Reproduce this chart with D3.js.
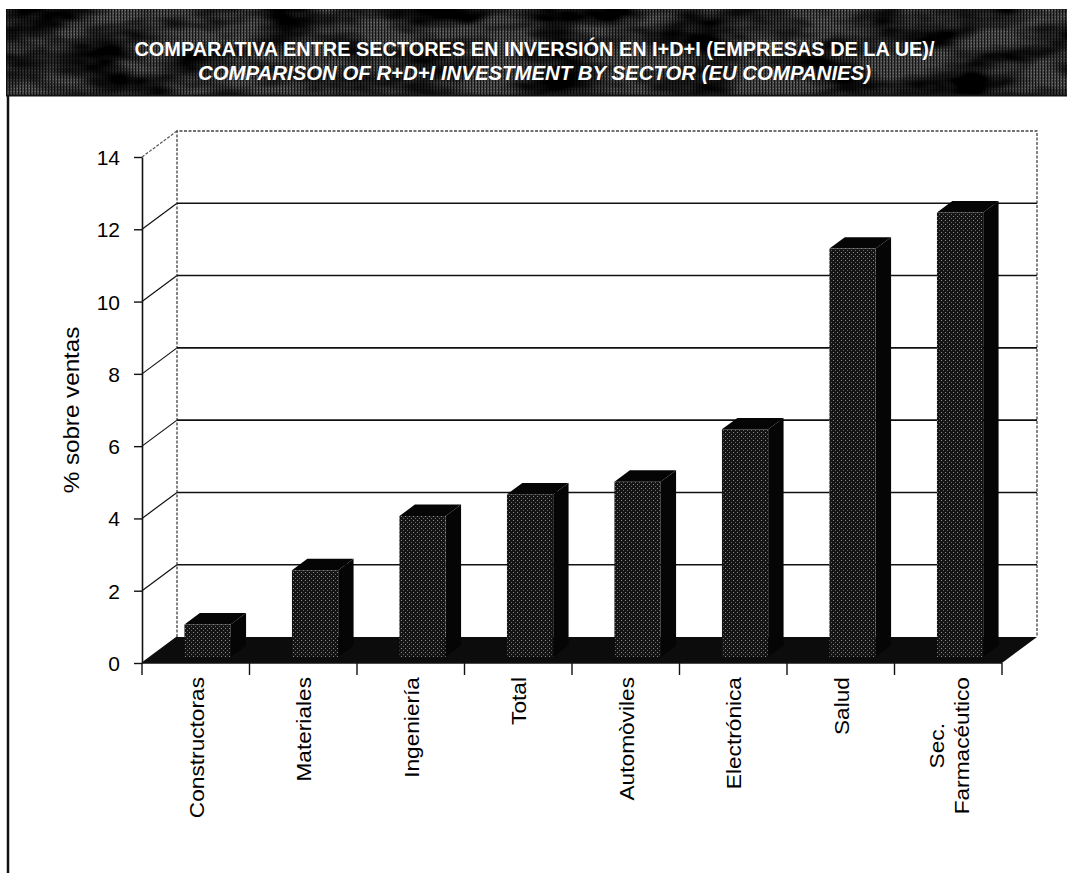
<!DOCTYPE html>
<html>
<head>
<meta charset="utf-8">
<script src="https://cdn.jsdelivr.net/npm/d3@7"></script>
<style>
  body { margin: 0; background: #fff; }
  svg { display: block; font-family: 'Liberation Sans', Arial, Helvetica, sans-serif; }
</style>
</head>
<body>
<svg id="chart"></svg>
<script>
// data
var sectors = ['Constructoras', 'Materiales', 'Ingeniería', 'Total', 'Automòviles', 'Electrónica', 'Salud', 'Sec.\nFarmacéutico'];
var values = [0.9, 2.4, 3.9, 4.5, 4.85, 6.3, 11.3, 12.3];
var yTicks = [0, 2, 4, 6, 8, 10, 12, 14];
var titleLines = [
  'COMPARATIVA ENTRE SECTORES EN INVERSIÓN EN I+D+I (EMPRESAS DE LA UE)/',
  'COMPARISON OF R+D+I INVESTMENT BY SECTOR (EU COMPANIES)'
];
var yLabel = '% sobre ventas';

var W = 1067, H = 873;
var svg = d3.select('#chart').attr('width', W).attr('height', H);
var defs = svg.append('defs');

// textures: dotted front faces, hatched banner
var stip = defs.append('pattern').attr('id', 'stip')
  .attr('width', 4).attr('height', 4).attr('patternUnits', 'userSpaceOnUse');
stip.append('rect').attr('width', 4).attr('height', 4).attr('fill', '#141414');
stip.append('rect').attr('x', 1).attr('y', 0).attr('width', 1).attr('height', 1).attr('fill', '#8c8c8c');
stip.append('rect').attr('x', 3).attr('y', 2).attr('width', 1).attr('height', 1).attr('fill', '#6a6a6a');

var hatch = defs.append('pattern').attr('id', 'hatch')
  .attr('width', 3).attr('height', 3).attr('patternUnits', 'userSpaceOnUse');
hatch.append('rect').attr('width', 3).attr('height', 3).attr('fill', '#444');
hatch.append('rect').attr('width', 1).attr('height', 3).attr('fill', '#151515');
hatch.append('rect').attr('x', 2).attr('y', 1).attr('width', 1).attr('height', 1).attr('fill', '#707070');

var mottle = defs.append('filter').attr('id', 'mottle').attr('x', 0).attr('y', 0).attr('width', 1).attr('height', 1);
mottle.append('feTurbulence').attr('type', 'fractalNoise').attr('baseFrequency', '0.015 0.04').attr('numOctaves', 3).attr('seed', 4);
mottle.append('feColorMatrix').attr('values', '0 0 0 0 0  0 0 0 0 0  0 0 0 0 0  0 0 0 -2.4 1.6');
mottle.append('feComposite').attr('in2', 'SourceGraphic').attr('operator', 'in');

// banner
var banner = svg.append('g');
banner.append('rect').attr('x', 6).attr('y', 9).attr('width', W - 6).attr('height', 87).attr('fill', 'url(#hatch)');
banner.append('rect').attr('x', 6).attr('y', 9).attr('width', W - 6).attr('height', 87).attr('fill', '#000').attr('filter', 'url(#mottle)');
banner.append('line').attr('x1', 6).attr('x2', W).attr('y1', 95.5).attr('y2', 95.5).attr('stroke', '#111').attr('stroke-width', 2);

var titleW = [800, 673];
banner.selectAll('text.title').data(titleLines).enter().append('text')
  .attr('class', 'title')
  .attr('x', 534.5)
  .attr('y', (d, i) => 56 + i * 24)
  .attr('text-anchor', 'middle')
  .attr('fill', '#fff')
  .attr('font-weight', 'bold')
  .attr('font-style', (d, i) => i ? 'italic' : 'normal')
  .attr('font-size', 21)
  .attr('textLength', (d, i) => titleW[i])
  .attr('lengthAdjust', 'spacingAndGlyphs')
  .text(d => d);

// left panel border
svg.append('line').attr('x1', 8).attr('x2', 8).attr('y1', 95).attr('y2', H)
  .attr('stroke', '#111').attr('stroke-width', 2.5);

// 3D frame
var left = 142, right = 1002;
var depth = { dx: 35, dy: -26 };

var x = d3.scaleBand().domain(sectors).range([left, right]).padding(0);
var y = d3.scaleLinear().domain([0, 14]).range([663, 157]);

var chart = svg.append('g');

// left wall diagonals
chart.selectAll('line.diag').data(yTicks).enter().append('line')
  .attr('x1', left).attr('y1', d => y(d))
  .attr('x2', left + depth.dx).attr('y2', d => y(d) + depth.dy)
  .attr('stroke', d => d === 14 ? '#555' : '#111')
  .attr('stroke-width', 1.2)
  .attr('stroke-dasharray', d => d === 14 ? '3,1.5' : null);

// back wall edges (dotted)
var bx0 = left + depth.dx, bx1 = right + depth.dx;
chart.append('path')
  .attr('d', `M${bx0},${y(0) + depth.dy}V${y(14) + depth.dy}H${bx1}V${y(0) + depth.dy}`)
  .attr('fill', 'none').attr('stroke', '#444').attr('stroke-width', 1.3)
  .attr('stroke-dasharray', '3,1.5');

// back gridlines
chart.selectAll('line.grid').data(yTicks.filter(d => d > 0 && d < 14)).enter().append('line')
  .attr('x1', bx0).attr('x2', bx1)
  .attr('y1', d => y(d) + depth.dy).attr('y2', d => y(d) + depth.dy)
  .attr('stroke', '#111').attr('stroke-width', 1.6);

// floor
chart.append('path')
  .attr('d', `M${left},${y(0)}L${right},${y(0)}L${bx1},${y(0) + depth.dy}L${bx0},${y(0) + depth.dy}Z`)
  .attr('fill', '#0c0c0c');

// bars
var t1 = 0.23, t2 = 0.67;
var f = { dx: depth.dx * t1, dy: depth.dy * t1 };
var s = { dx: depth.dx * (t2 - t1), dy: depth.dy * (t2 - t1) };
var bw = x.bandwidth() * 0.43;
var bo = x.bandwidth() * 0.32;

var bars = chart.selectAll('g.bar').data(values).enter().append('g').attr('class', 'bar');
bars.each(function (v, i) {
  var g = d3.select(this);
  var x0 = x(sectors[i]) + bo + f.dx, x1 = x0 + bw;
  var yt = y(v) + f.dy, yb = y(0) + f.dy;
  g.append('path')
    .attr('d', `M${x1},${yt}L${x1 + s.dx},${yt + s.dy}L${x1 + s.dx},${yb + s.dy}L${x1},${yb}Z`)
    .attr('fill', '#050505');
  g.append('path')
    .attr('d', `M${x0},${yt}L${x0 + s.dx},${yt + s.dy}L${x1 + s.dx},${yt + s.dy}L${x1},${yt}Z`)
    .attr('fill', '#050505');
  g.append('rect')
    .attr('x', x0).attr('y', yt).attr('width', bw).attr('height', yb - yt)
    .attr('fill', 'url(#stip)');
});

// front value axis
var yAxis = d3.axisLeft(y).tickValues(yTicks).tickSize(8).tickPadding(14).tickSizeOuter(0);
var ya = chart.append('g').attr('transform', `translate(${left},0)`).call(yAxis);
ya.select('.domain').attr('stroke', '#111').attr('stroke-width', 1.6);
ya.selectAll('.tick line').attr('stroke', '#111').attr('stroke-width', 1.4);
ya.selectAll('.tick text')
  .attr('font-family', "'Liberation Sans', Arial, sans-serif")
  .attr('font-size', 21).attr('fill', '#000')
  .attr('dy', '0.36em');

// category axis ticks at band edges
var edges = sectors.map(d => x(d)).concat([right]);
chart.selectAll('line.xt').data(edges).enter().append('line')
  .attr('x1', d => d).attr('x2', d => d)
  .attr('y1', y(0)).attr('y2', y(0) + 12)
  .attr('stroke', '#111').attr('stroke-width', 1.4);
chart.append('line').attr('x1', left).attr('x2', right).attr('y1', y(0)).attr('y2', y(0))
  .attr('stroke', '#111').attr('stroke-width', 1.4);

// category labels, rotated
var labTop = 677, lineGap = 25;
sectors.forEach(function (name, i) {
  var lines = name.split('\n');
  var cx = x(name) + x.bandwidth() / 2;
  var g = chart.append('g');
  var texts = g.selectAll('text').data(lines).enter().append('text')
    .attr('font-size', 21)
    .attr('fill', '#000')
    .attr('text-anchor', 'middle')
    .text(d => d);
  var maxLen = d3.max(texts.nodes(), n => n.getComputedTextLength()) * 1.08;
  texts.attr('transform', (d, j) => {
    var lx = cx + (j - (lines.length - 1) / 2) * lineGap + 8;
    return `translate(${lx},${labTop + maxLen / 2}) rotate(-90) scale(1.08,1)`;
  });
});

// value axis title
svg.append('text')
  .attr('transform', 'translate(79,410) rotate(-90) scale(1.1,1)')
  .attr('text-anchor', 'middle')
  .attr('font-size', 22)
  .attr('fill', '#000')
  .text(yLabel);
</script>
</body>
</html>
